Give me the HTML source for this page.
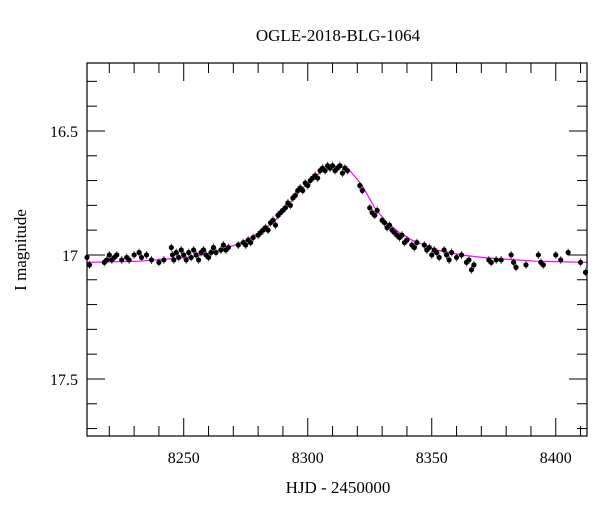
<!DOCTYPE html>
<html><head><meta charset="utf-8"><style>
html,body{margin:0;padding:0;background:#fff;}
svg text{font-family:"Liberation Serif",serif;fill:#000;}
</style></head><body>
<svg id="chart" width="600" height="512" viewBox="0 0 600 512" xmlns="http://www.w3.org/2000/svg">
<text x="338" y="41" font-size="17" text-anchor="middle">OGLE-2018-BLG-1064</text>
<text x="338" y="493" font-size="17" text-anchor="middle">HJD - 2450000</text>
<text x="26" y="250" font-size="17" text-anchor="middle" transform="rotate(-90 26 250)">I magnitude</text>
<g id="ticks"></g>
<g id="model"></g>
<g id="points"></g>
<rect x="87" y="63" width="500" height="373" fill="none" stroke="#000" stroke-width="1.2"/>
</svg>
<script>
const xTickLabels=[8250,8300,8350,8400];
const yTickLabels=[16.5,17,17.5];
const modelT=[8210,8232,8252,8262,8272,8277,8282,8287,8292,8297,8302,8307,8312,8317,8322,8327,8332,8337,8342,8347,8352,8362,8372,8392,8415];
const modelM=[17.03,17.025,17.01,16.99,16.955,16.93,16.90,16.86,16.80,16.74,16.69,16.655,16.64,16.66,16.72,16.81,16.87,16.91,16.94,16.96,16.98,17.0,17.012,17.025,17.03];
const obsT=[8211,8212,8218,8219,8220,8221,8222,8223,8225,8227,8228,8230,8232,8233,8235,8237,8240,8242,8245,8245.5,8246,8247,8248,8249,8250,8251,8252,8253,8254,8255,8256,8257,8258,8259,8260,8261,8262,8263,8265,8266,8267,8268,8272,8274,8275,8276,8277,8278,8280,8281,8282,8283,8284,8285,8286,8287,8288,8289,8290,8291,8292,8293,8294,8295,8296,8297,8298,8299,8300,8301,8302,8303,8304,8305,8306,8307,8308,8309,8310,8311,8312,8313,8314,8315,8316,8321,8322,8325,8326,8327,8328,8330,8331,8332,8333,8334,8335,8336,8337,8338,8339,8340,8342,8343,8344,8347,8348,8349,8350,8351,8352,8353,8355,8356,8357,8358,8360,8362,8364,8365,8366,8367,8373,8374,8376,8378,8382,8383,8384,8388,8393,8394,8395,8400,8402,8405,8410,8412];
const obsM=[17.01,17.04,17.03,17.02,17.0,17.02,17.01,17.0,17.02,17.01,17.02,17.0,16.99,17.01,17.0,17.02,17.03,17.02,16.97,17.0,17.02,16.99,17.01,16.98,17.0,17.02,16.99,17.01,16.98,17.0,17.02,16.99,16.98,17.0,17.01,16.99,16.97,16.99,16.98,16.96,16.98,16.97,16.96,16.95,16.96,16.94,16.95,16.93,16.92,16.91,16.9,16.89,16.9,16.87,16.86,16.88,16.84,16.83,16.82,16.81,16.79,16.8,16.77,16.76,16.74,16.73,16.74,16.71,16.72,16.7,16.69,16.68,16.69,16.66,16.65,16.66,16.64,16.65,16.64,16.66,16.65,16.64,16.67,16.65,16.66,16.72,16.74,16.81,16.83,16.84,16.82,16.86,16.87,16.89,16.88,16.9,16.91,16.92,16.93,16.92,16.95,16.94,16.96,16.97,16.95,16.96,16.98,16.97,17.0,16.98,16.99,17.01,16.98,17.0,17.02,16.99,17.01,17.0,17.03,17.02,17.06,17.04,17.02,17.03,17.02,17.02,17.0,17.03,17.05,17.04,17.0,17.03,17.04,17.0,17.02,16.99,17.03,17.07];
const X0=87,X1=587,Y0=63,Y1=436,TMIN=8211,TMAX=8412.6,MTOP=16.226,MBOT=17.73;
function xs(t){return X0+(t-TMIN)/(TMAX-TMIN)*(X1-X0);}
function ys(m){return Y0+(m-MTOP)/(MBOT-MTOP)*(Y1-Y0);}
const NS="http://www.w3.org/2000/svg";
function mk(tag,attrs,parent){const e=document.createElementNS(NS,tag);for(const k in attrs)e.setAttribute(k,attrs[k]);parent.appendChild(e);return e;}
const tg=document.getElementById('ticks');
for(let t=8220;t<=8410;t+=10){
  const major=xTickLabels.includes(t);const L=major?18:10;
  const a=mk('line',{x1:xs(t),x2:xs(t),y1:Y1,y2:Y1-L,stroke:'#000','stroke-width':1},tg);
  
  
  const b=mk('line',{x1:xs(t),x2:xs(t),y1:Y0,y2:Y0+L,stroke:'#000','stroke-width':1},tg);
  
  
}
xTickLabels.forEach(v=>{
  const tx=mk('text',{x:xs(v),y:463,'font-size':16,'text-anchor':'middle'},tg);tx.textContent=v;
  
  
});
for(let i=3;i<=17;i++){
  const m=i/10+16;const major=(i%5===0);const L=major?18:10;
  const a=mk('line',{x1:X0,x2:X0+L,y1:ys(m),y2:ys(m),stroke:'#000','stroke-width':1},tg);
  
  
  const b=mk('line',{x1:X1,x2:X1-L,y1:ys(m),y2:ys(m),stroke:'#000','stroke-width':1},tg);
  
  
}
yTickLabels.forEach(v=>{
  const tx=mk('text',{x:78,y:ys(v)+6,'font-size':16,'text-anchor':'end'},tg);tx.textContent=String(v);
  
  
});
const mg=document.getElementById('model');
let d='';modelT.forEach((t,i)=>{d+=(i?'L':'M')+xs(Math.min(Math.max(t,TMIN),TMAX)).toFixed(1)+','+ys(modelM[i]).toFixed(1);});
const path=mk('path',{d:d,fill:'none',stroke:'#ff00ff','stroke-width':1.2,'stroke-linejoin':'round'},mg);


const pg=document.getElementById('points');
obsT.forEach((t,i)=>{
  const x=xs(t),y=ys(obsM[i]);
  const eb=mk('line',{x1:x,x2:x,y1:y-4,y2:y+4,stroke:'#555','stroke-width':1},pg);
  
  
  const c=mk('circle',{cx:x,cy:y,r:2.6,fill:'#000'},pg);
  
  
});
</script>
</body></html>
